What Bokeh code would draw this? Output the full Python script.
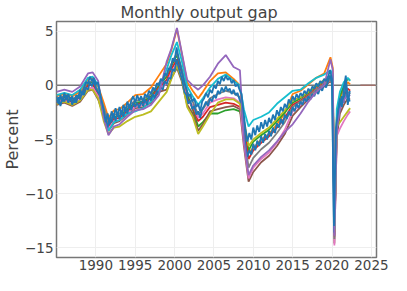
from bokeh.plotting import figure
from bokeh.models import FixedTicker, Span, Range1d
from bokeh.embed import file_html
from bokeh.resources import INLINE

# ---- data ----
YEARS = [1985.0, 1986.0, 1987.0, 1988.0, 1989.0, 1989.6, 1990.3,
         1991.0, 1991.6, 1992.3, 1993.0, 1994.0, 1995.0, 1996.0, 1997.0, 1998.0,
         1999.0, 1999.6, 2000.3, 2000.9, 2001.6,
         2002.3, 2003.0, 2003.6, 2004.5, 2005.5, 2006.5, 2007.5, 2008.3,
         2008.8, 2009.4, 2010.0, 2011.0, 2012.0, 2013.0, 2014.0,
         2015.0, 2016.0, 2017.0, 2018.0, 2019.0, 2019.8, 2020.1,
         2020.3, 2020.6, 2021.0, 2021.5, 2022.0, 2022.3]

V_ORANGE = [-1.0, -0.8, -1.0, -0.6, 0.6, 0.7, -0.1,
            -1.6, -3.0, -2.3, -2.2, -1.6, -0.9, -0.8, -0.2, 0.9,
            2.0, 3.3, 5.2, 3.0, 0.3,
            -0.5, -1.2, -0.6, 0.4, 1.1, 1.2, 0.6, 0.0,
            -3.6, -6.2, -5.8, -5.0, -4.5, -3.6, -2.6,
            -0.8, -0.5, 0.1, 0.7, 1.1, 2.6, 1.6,
            -13.6, -3.0, -1.2, -0.3, 0.3, 0.1]

V_GREEN = [-1.4, -1.1, -1.4, -0.9, 0.2, 0.3, -0.6,
           -2.2, -3.6, -2.9, -2.8, -2.2, -1.6, -1.5, -1.0, 0.0,
           0.8, 1.8, 2.8, 1.4, -0.8,
           -2.2, -3.8, -3.4, -2.6, -2.6, -2.3, -2.2, -2.4,
           -3.5, -6.0, -5.2, -4.6, -4.1, -3.3, -2.5,
           -1.6, -1.2, -0.7, -0.1, 0.4, 0.8, 0.4,
           -13.8, -3.2, -1.0, 0.0, 0.6, 0.5]

V_RED = [-1.6, -1.3, -1.5, -1.1, 0.0, 0.1, -0.8,
         -2.4, -3.8, -3.1, -3.0, -2.4, -1.8, -1.6, -1.2, -0.2,
         0.5, 1.5, 2.4, 1.0, -1.2,
         -2.0, -3.3, -2.9, -2.0, -1.8, -1.6, -1.7, -2.0,
         -3.9, -6.8, -6.0, -5.3, -4.7, -3.9, -3.0,
         -1.8, -1.4, -0.9, -0.3, 0.2, 0.6, 0.2,
         -14.0, -3.8, -1.8, -1.0, -0.3, -0.5]

V_PURPLE = [-0.6, -0.4, -0.6, -0.1, 1.1, 1.2, 0.4,
            -3.0, -4.6, -3.8, -3.6, -2.9, -2.3, -2.2, -1.8, -0.9,
            2.2, 3.4, 5.3, 3.1, 0.5,
            0.0, -0.4, 0.0, 0.8, 2.0, 2.8, 1.7, 1.4,
            -5.0, -8.3, -7.4, -6.6, -6.0, -5.2, -4.3,
            -3.6, -2.6, -1.5, -0.6, 0.0, 2.4, 1.4,
            -13.9, -4.0, -2.2, -1.4, -0.8, -1.0]

V_BROWN = [-1.8, -1.6, -1.9, -1.5, -0.5, -0.4, -1.3,
           -2.8, -4.2, -3.5, -3.3, -2.7, -2.1, -2.0, -1.6, -0.6,
           -0.4, 0.7, 1.6, 0.4, -1.8,
           -2.6, -4.2, -3.6, -2.4, -2.2, -2.0, -1.9, -2.2,
           -5.6, -8.9, -8.0, -7.1, -6.5, -5.6, -4.5,
           -2.8, -2.0, -1.3, -0.6, -0.1, 0.4, 0.0,
           -14.6, -4.8, -2.6, -1.8, -1.2, -1.3]

V_PINK = [-1.5, -1.4, -1.7, -1.3, -0.3, -0.2, -1.0,
          -2.6, -4.0, -3.3, -3.2, -2.6, -2.0, -1.8, -1.4, -0.4,
          0.2, 1.2, 2.0, 0.8, -1.5,
          -1.8, -3.0, -2.6, -1.6, -1.3, -1.1, -1.2, -1.6,
          -5.2, -8.6, -7.6, -6.8, -6.2, -5.3, -4.1,
          -2.4, -1.8, -1.1, -0.4, 0.1, 0.5, 0.2,
          -14.8, -4.7, -4.0, -3.3, -2.7, -2.4]

V_GREY = [-1.3, -1.0, -1.3, -0.8, 0.3, 0.4, -0.5,
          -2.0, -3.4, -2.7, -2.6, -2.0, -1.4, -1.3, -0.8, 0.2,
          1.0, 2.0, 3.0, 1.6, -0.6,
          -1.5, -2.7, -2.2, -1.2, -0.8, -0.5, -0.7, -1.1,
          -4.4, -7.6, -6.7, -5.9, -5.3, -4.4, -3.4,
          -2.0, -1.5, -1.0, -0.4, 0.1, 0.5, 0.1,
          -14.2, -4.2, -2.0, -1.2, -0.6, -0.8]

V_OLIVE = [-1.7, -1.5, -1.8, -1.4, -0.4, -0.4, -1.2,
           -3.3, -4.5, -3.9, -3.8, -3.3, -2.9, -2.7, -2.4, -1.5,
           -0.6, 0.6, 1.8, 0.6, -2.0,
           -2.9, -4.5, -3.8, -2.7, -1.6, -1.3, -1.3, -1.7,
           -3.2, -5.6, -5.0, -4.4, -3.9, -3.1, -2.3,
           -1.4, -1.1, -0.6, 0.0, 0.5, 0.9, 0.5,
           -13.5, -3.8, -3.4, -2.9, -2.4, -2.1]

V_CYAN = [-0.9, -0.7, -0.9, -0.4, 0.7, 0.8, 0.0,
          -2.6, -4.2, -3.4, -3.2, -2.6, -2.4, -2.1, -1.5, -0.4,
          1.5, 2.8, 4.0, 2.3, -0.1,
          -1.0, -1.8, -1.2, -0.2, 0.6, 1.0, 0.4, 0.0,
          -2.2, -3.8, -3.2, -2.9, -2.5, -1.7, -1.1,
          -0.5, -0.4, 0.2, 0.7, 1.0, 1.4, 1.0,
          -13.3, -2.2, -0.6, 0.3, 0.7, 0.4]

# two recent vintages, quarterly (1985Q1 ... 2022Q2), one row per year
V_BLUE_Q2 = [
    -1.6, -1.1, -1.9, -1.2,   # 1985
    -1.5, -0.9, -1.6, -1.1,   # 1986
    -1.8, -1.2, -1.6, -0.9,   # 1987
    -1.3, -0.6, -0.9, -0.2,   # 1988
    -0.4, 0.3, -0.1, 0.5,     # 1989
    -0.3, -0.6, -0.9, -1.9,   # 1990
    -2.8, -3.1, -3.9, -3.0,   # 1991
    -3.4, -2.6, -3.3, -2.5,   # 1992
    -3.1, -2.4, -2.9, -2.1,   # 1993
    -2.6, -1.8, -2.3, -1.6,   # 1994
    -2.0, -1.6, -2.1, -1.5,   # 1995
    -1.9, -1.3, -1.8, -1.0,   # 1996
    -1.4, -0.8, -1.2, -0.5,   # 1997
    -0.8, -0.2, -0.4, 0.4,    # 1998
    0.1, 0.7, 0.6, 1.5,       # 1999
    1.3, 2.4, 1.7, 1.0,       # 2000
    0.4, -0.6, -0.9, -1.7,    # 2001
    -1.4, -2.2, -1.9, -2.7,   # 2002
    -2.4, -3.0, -2.2, -1.9,   # 2003
    -1.5, -1.9, -1.2, -1.5,   # 2004
    -0.9, -1.2, -0.5, -0.8,   # 2005
    -0.2, -0.6, -0.1, -0.5,   # 2006
    -0.3, -0.8, -0.4, -0.9,   # 2007
    -0.7, -1.3, -1.6, -3.4,   # 2008
    -5.6, -6.6, -6.0, -6.4,   # 2009
    -5.4, -6.0, -5.1, -5.6,   # 2010
    -4.7, -5.3, -4.5, -5.0,   # 2011
    -4.2, -4.7, -3.9, -4.4,   # 2012
    -3.5, -3.9, -3.1, -3.6,   # 2013
    -2.7, -3.1, -2.4, -2.8,   # 2014
    -2.0, -2.4, -1.7, -2.1,   # 2015
    -1.5, -1.8, -1.2, -1.5,   # 2016
    -1.0, -1.3, -0.8, -1.0,   # 2017
    -0.5, -0.8, -0.2, -0.5,   # 2018
    0.1, -0.2, 0.4, 0.9,      # 2019
    0.2, -13.6, -5.0, -3.2,   # 2020
    -2.0, -1.0, -1.6, 0.2,    # 2021
    -0.9, -1.5,               # 2022
]

V_BLUE_Q = [
    -1.0, -1.7, -0.9, -1.5,   # 1985
    -0.7, -1.3, -0.8, -1.4,   # 1986
    -1.0, -1.6, -0.9, -1.2,   # 1987
    -0.4, -0.9, -0.2, 0.3,    # 1988
    0.2, 0.8, 0.4, 0.7,       # 1989
    0.1, 0.3, -0.6, -1.5,     # 1990
    -2.3, -3.4, -2.6, -3.6,   # 1991
    -2.4, -3.0, -2.1, -2.8,   # 1992
    -2.0, -2.7, -1.8, -2.3,   # 1993
    -1.5, -2.1, -1.4, -1.0,   # 1994
    -1.6, -0.9, -1.4, -1.0,   # 1995
    -1.5, -0.8, -1.1, -0.5,   # 1996
    -0.8, -0.2, -0.5, 0.2,    # 1997
    0.0, 0.6, 0.4, 1.1,       # 1998
    0.9, 1.6, 1.4, 2.5,       # 1999
    2.2, 3.5, 2.6, 1.8,       # 2000
    1.0, 0.2, -0.3, -1.0,     # 2001
    -0.8, -1.5, -1.2, -2.0,   # 2002
    -1.7, -2.4, -1.5, -1.2,   # 2003
    -0.7, -1.1, -0.4, -0.7,   # 2004
    0.0, -0.3, 0.4, 0.1,      # 2005
    0.8, 0.4, 0.9, 0.5,       # 2006
    0.7, 0.2, 0.5, -0.1,      # 2007
    0.1, -0.4, -0.8, -2.4,    # 2008
    -4.0, -5.2, -4.4, -5.0,   # 2009
    -3.9, -4.6, -3.7, -4.3,   # 2010
    -3.4, -4.0, -3.2, -3.8,   # 2011
    -3.0, -3.5, -2.7, -3.2,   # 2012
    -2.3, -2.8, -2.0, -2.4,   # 2013
    -1.7, -2.1, -1.3, -1.7,   # 2014
    -1.0, -1.4, -0.8, -1.2,   # 2015
    -0.7, -1.0, -0.5, -0.8,   # 2016
    -0.3, -0.6, -0.1, -0.3,   # 2017
    0.2, -0.1, 0.4, 0.2,      # 2018
    0.6, 0.4, 0.8, 1.4,       # 2019
    0.6, -13.0, -4.0, -2.5,   # 2020
    -1.2, -2.0, -0.3, 0.9,    # 2021
    -1.8, -0.5,               # 2022
]
Q_YEARS = [1985.0 + q / 4 for q in range(len(V_BLUE_Q))]

TAIL_YEARS = [2023.6, 2025.5]
TAIL_VALUES = [0.0, 0.0]

X_TICKS = [1990, 1995, 2000, 2005, 2010, 2015, 2020, 2025]
Y_TICKS = [-15, -10, -5, 0, 5]
Y_LABELS = {-15: "\u221215", -10: "\u221210", -5: "\u22125", 0: "0", 5: "5"}

SERIES = [
    (YEARS, V_ORANGE, "#ff7f0e"),
    (YEARS, V_GREEN, "#2ca02c"),
    (YEARS, V_RED, "#d62728"),
    (YEARS, V_BROWN, "#8c564b"),
    (YEARS, V_PINK, "#e377c2"),
    (YEARS, V_GREY, "#7f7f7f"),
    (YEARS, V_OLIVE, "#bcbd22"),
    (YEARS, V_CYAN, "#17becf"),
    (Q_YEARS, V_BLUE_Q2, "#1f77b4"),
    (YEARS, V_PURPLE, "#9467bd"),
    (Q_YEARS, V_BLUE_Q, "#1f77b4"),
]

FONT = "DejaVu Sans"
TXT = "#444444"

p = figure(width=391, height=275, output_backend="svg", toolbar_location=None,
           title="Monthly output gap",
           x_range=Range1d(1985.0, 2025.65), y_range=Range1d(-15.9, 5.9),
           min_border_left=52, min_border_right=15, min_border_top=0,
           min_border_bottom=18, background_fill_color="white",
           border_fill_color="white")

p.title.align = "left"
p.title.offset = 64
p.title.standoff = 0
p.title.text_font = FONT
p.title.text_font_size = "16px"
p.title.text_font_style = "normal"
p.title.text_color = TXT

p.outline_line_color = "#777777"
p.outline_line_width = 1.5

p.xaxis.ticker = FixedTicker(ticks=X_TICKS)
p.yaxis.ticker = FixedTicker(ticks=Y_TICKS)
p.yaxis.major_label_overrides = Y_LABELS
p.yaxis.axis_label = "Percent"
for ax in (p.xaxis, p.yaxis):
    ax.axis_line_color = None
    ax.major_tick_line_color = None
    ax.minor_tick_line_color = None
    ax.major_tick_out = 0
    ax.major_tick_in = 0
    ax.major_label_text_font = FONT
    ax.major_label_text_font_size = "13.5px"
    ax.major_label_text_color = TXT
p.xaxis.major_label_standoff = 2
p.yaxis.major_label_standoff = 3
p.yaxis.axis_label_standoff = 0
p.yaxis.axis_label_text_font = FONT
p.yaxis.axis_label_text_font_size = "16px"
p.yaxis.axis_label_text_font_style = "normal"
p.yaxis.axis_label_text_color = TXT

p.xgrid.grid_line_color = "#eeeeee"
p.ygrid.grid_line_color = "#eeeeee"

p.add_layout(Span(location=0, dimension="width", line_color="#777777",
                  line_width=1.5, level="underlay"))

for xs, vals, col in SERIES:
    p.line(xs, vals, line_color=col, line_width=1.8)

p.line(TAIL_YEARS, TAIL_VALUES, line_color="#a0706a", line_width=1.5)

open("out.html", "w").write(file_html(p, INLINE))
